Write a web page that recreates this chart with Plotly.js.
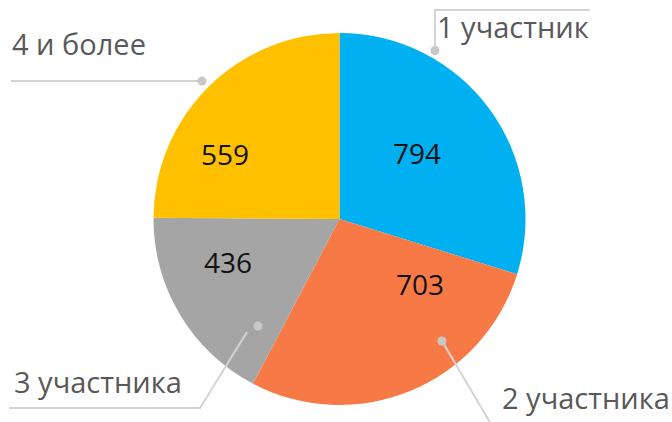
<!DOCTYPE html>
<html>
<head>
<meta charset="utf-8">
<script src="https://cdn.plot.ly/plotly-3.0.1.min.js"></script>
<style>html,body{margin:0;padding:0;background:#fff}#chart{width:672px;height:422px}</style>
</head>
<body>
<div id="chart"></div>
<script>
// Categories and displayed counts
var categories = ["1 участник", "2 участника", "3 участника", "4 и более"];
var counts = [794, 703, 436, 559];
// Slice shares (% of circle) as drawn in the reference picture
var shares = [29.8, 27.9, 17.4, 24.9];
var colors = ["#00B0F0", "#F67946", "#A5A5A5", "#FFC000"];

var W = 672, H = 422;
function fx(x){ return x / W; }
function fy(y){ return 1 - y / H; }

var cx = 339.5, cy = 219, R = 186;

var trace = {
  type: "pie",
  values: shares,
  labels: categories,
  text: counts.map(String),
  sort: false,
  direction: "clockwise",
  rotation: 0,
  textinfo: "none",
  hoverinfo: "label+text",
  marker: {colors: colors, line: {width: 0}},
  showlegend: false,
  domain: {x: [fx(cx - R), fx(cx + R)], y: [fy(cy + R), fy(cy - R)]}
};

// label placement (pixel positions of text anchors)
var numPos = [[417, 153], [420, 284], [228, 262], [225, 154]];
var labPos = [[435, 27], [500, 397], [12, 381], [10, 44]];

var annotations = [];
for (var i = 0; i < categories.length; i++) {
  annotations.push({
    x: fx(numPos[i][0]), y: fy(numPos[i][1]), xref: "paper", yref: "paper",
    text: String(counts[i]), showarrow: false, xanchor: "center", yanchor: "middle",
    font: {family: "Open Sans", size: 28, color: "#111111"}
  });
  annotations.push({
    x: fx(labPos[i][0]), y: fy(labPos[i][1]), xref: "paper", yref: "paper",
    text: categories[i], showarrow: false, xanchor: "left", yanchor: "middle",
    font: {family: "Open Sans", size: 29, color: "#595959"}
  });
}

var lineStyle = {color: "#D4D4D4", width: 2};
var leaders = [
  [[435, 50], [435, 10], [590, 10]],
  [[442, 341], [491, 424]],
  [[247, 332], [200, 408], [9, 408]],
  [[202, 81], [11, 81]]
];
var dots = [[435, 50.5], [442, 341], [258, 326], [202, 81]];

var shapes = [];
leaders.forEach(function(pts){
  var d = "M " + pts.map(function(p){ return fx(p[0]) + "," + fy(p[1]); }).join(" L ");
  shapes.push({type: "path", xref: "paper", yref: "paper", path: d, line: lineStyle, layer: "above"});
});
dots.forEach(function(p){
  var r = 4.5;
  shapes.push({type: "circle", xref: "paper", yref: "paper",
    x0: fx(p[0] - r), x1: fx(p[0] + r), y0: fy(p[1] + r), y1: fy(p[1] - r),
    fillcolor: "#C8C8C8", line: {width: 0}, layer: "above"});
});

var layout = {
  width: W, height: H,
  margin: {l: 0, r: 0, t: 0, b: 0},
  paper_bgcolor: "#ffffff",
  font: {family: "Open Sans"},
  annotations: annotations,
  shapes: shapes
};

Plotly.newPlot("chart", [trace], layout, {displayModeBar: false, staticPlot: true});
</script>
</body>
</html>
